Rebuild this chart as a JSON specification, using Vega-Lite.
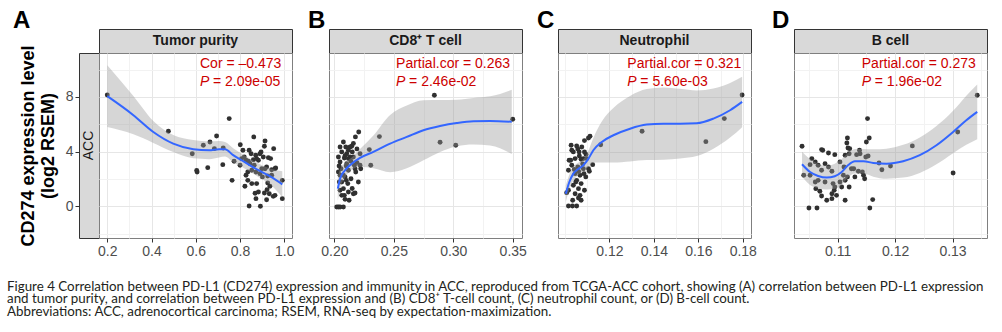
{
  "$schema": "https://vega.github.io/schema/vega-lite/v6.json",
  "autosize": {"type": "pad"},
  "padding": {"left": 7, "top": 8, "right": 0, "bottom": 0},
  "background": "white",
  "bounds": "flush",
  "align": "each",
  "columns": 8,
  "spacing": 0,
  "title": {
    "text": [
      "Figure 4 Correlation between PD-L1 (CD274) expression and immunity in ACC, reproduced from TCGA-ACC cohort, showing (A) correlation between PD-L1 expression",
      "and tumor purity, and correlation between PD-L1 expression and (B) CD8⁺ T-cell count, (C) neutrophil count, or (D) B-cell count.",
      "Abbreviations: ACC, adrenocortical carcinoma; RSEM, RNA-seq by expectation-maximization."
    ],
    "orient": "bottom", "anchor": "start", "frame": "group", "dx": -72, "offset": 21,
    "font": "Lato", "fontSize": 13.35, "fontWeight": "normal", "color": "#231f20", "lineHeight": 12.8
  },
  "datasets": {
    "ptsA": [
      {"x":0.200,"y":8.15},{"x":0.476,"y":5.49},{"x":0.584,"y":3.85},{"x":0.604,"y":2.62},{"x":0.606,"y":2.51},{"x":0.634,"y":4.47},{"x":0.654,"y":2.83},{"x":0.664,"y":4.71},{"x":0.684,"y":4.22},{"x":0.694,"y":5.15},{"x":0.722,"y":3.05},{"x":0.724,"y":4.27},{"x":0.751,"y":6.42},{"x":0.764,"y":1.90},{"x":0.773,"y":3.30},
      {"x":0.862,"y":5.08},{"x":0.913,"y":4.78},{"x":0.910,"y":4.40},{"x":0.952,"y":4.22},{"x":0.801,"y":4.51},{"x":0.813,"y":4.10},{"x":0.841,"y":4.10},{"x":0.850,"y":3.85},{"x":0.895,"y":3.98},{"x":0.871,"y":3.74},{"x":0.905,"y":3.61},{"x":0.928,"y":3.56},{"x":0.807,"y":3.49},{"x":0.827,"y":3.37},{"x":0.860,"y":3.41},{"x":0.883,"y":3.37},{"x":0.845,"y":3.12},{"x":0.864,"y":3.00},{"x":0.913,"y":2.75},{"x":0.943,"y":2.68},{"x":0.961,"y":2.81},{"x":0.835,"y":2.51},{"x":0.872,"y":2.51},{"x":0.890,"y":2.39},{"x":0.827,"y":2.27},{"x":0.901,"y":2.15},{"x":0.925,"y":2.22},{"x":0.835,"y":1.90},{"x":0.853,"y":1.66},{"x":0.822,"y":1.47},{"x":0.925,"y":1.71},{"x":0.935,"y":1.47},{"x":0.991,"y":1.90},{"x":0.883,"y":1.05},{"x":0.910,"y":0.97},{"x":0.922,"y":1.22},{"x":0.950,"y":0.73},{"x":0.872,"y":0.56},{"x":0.920,"y":0.48},{"x":0.991,"y":0.56},{"x":0.841,"y":0.02},{"x":0.892,"y":0.00},
      {"x":0.819,"y":3.61},{"x":0.890,"y":3.85},{"x":0.868,"y":0.95},{"x":0.875,"y":1.66},{"x":0.853,"y":2.64},{"x":0.898,"y":2.75},{"x":0.920,"y":2.88},{"x":0.943,"y":2.27},{"x":0.958,"y":2.75},{"x":0.938,"y":3.49},{"x":0.875,"y":3.49},{"x":0.838,"y":3.30},{"x":0.800,"y":3.00},{"x":0.932,"y":0.92},{"x":0.958,"y":0.80}
    ],
    "fitA": [
      {"x":0.200,"fit":8.06,"lo":5.80,"hi":10.32},{"x":0.318,"fit":6.67,"lo":5.27,"hi":8.07},{"x":0.408,"fit":5.44,"lo":4.64,"hi":6.24},{"x":0.498,"fit":4.59,"lo":3.97,"hi":5.21},{"x":0.589,"fit":4.18,"lo":3.51,"hi":4.85},{"x":0.660,"fit":4.10,"lo":3.45,"hi":4.75},{"x":0.705,"fit":4.18,"lo":3.58,"hi":4.78},{"x":0.732,"fit":4.18,"lo":3.65,"hi":4.71},{"x":0.769,"fit":3.74,"lo":3.23,"hi":4.25},{"x":0.807,"fit":3.37,"lo":2.89,"hi":3.85},{"x":0.845,"fit":3.00,"lo":2.52,"hi":3.48},{"x":0.883,"fit":2.64,"lo":2.15,"hi":3.13},{"x":0.940,"fit":2.15,"lo":1.55,"hi":2.75},{"x":0.991,"fit":1.61,"lo":0.66,"hi":2.56}
    ],
    "ptsB": [
      {"x":0.2841,"y":8.13},{"x":0.3500,"y":6.37},{"x":0.2379,"y":5.10},{"x":0.2889,"y":4.69},{"x":0.3021,"y":4.47},{"x":0.2294,"y":4.15},{"x":0.2306,"y":3.00},{"x":0.2205,"y":5.44},{"x":0.2177,"y":5.08},{"x":0.2216,"y":3.85},{"x":0.2222,"y":2.75},
      {"x":0.2076,"y":4.71},{"x":0.2048,"y":4.34},{"x":0.2096,"y":4.34},{"x":0.2132,"y":4.34},{"x":0.2062,"y":3.98},{"x":0.2104,"y":3.85},{"x":0.2151,"y":3.98},{"x":0.2034,"y":3.61},{"x":0.2084,"y":3.54},{"x":0.2132,"y":3.61},{"x":0.2048,"y":3.25},{"x":0.2104,"y":3.12},{"x":0.2168,"y":3.00},{"x":0.2216,"y":3.00},{"x":0.2056,"y":2.75},{"x":0.2118,"y":2.64},{"x":0.2180,"y":2.51},{"x":0.2048,"y":2.27},{"x":0.2090,"y":2.15},{"x":0.2140,"y":2.02},{"x":0.2062,"y":1.78},{"x":0.2113,"y":1.66},{"x":0.2202,"y":1.78},{"x":0.2076,"y":1.29},{"x":0.2118,"y":1.05},{"x":0.2174,"y":0.97},{"x":0.2062,"y":0.80},{"x":0.2090,"y":0.51},{"x":0.2124,"y":0.44},{"x":0.2020,"y":-0.05},{"x":0.2034,"y":-0.05},{"x":0.2048,"y":-0.05},{"x":0.2076,"y":-0.05},
      {"x":0.2146,"y":4.40},{"x":0.2160,"y":3.61},{"x":0.2118,"y":3.49},{"x":0.2174,"y":2.75},{"x":0.2160,"y":0.92},{"x":0.2084,"y":0.80},{"x":0.2048,"y":1.17},{"x":0.2042,"y":1.78},{"x":0.2034,"y":2.51},{"x":0.2076,"y":2.27},{"x":0.2090,"y":3.70},{"x":0.2118,"y":4.10},{"x":0.2100,"y":1.90},{"x":0.2150,"y":1.30},{"x":0.2040,"y":2.95},{"x":0.2160,"y":4.60},{"x":0.2190,"y":4.20},{"x":0.2100,"y":2.95},{"x":0.2140,"y":3.30},{"x":0.2190,"y":3.20}
    ],
    "fitB": [
      {"x":0.2029,"fit":1.29,"lo":0.39,"hi":2.19},{"x":0.2048,"fit":2.02,"lo":1.32,"hi":2.72},{"x":0.2090,"fit":2.64,"lo":2.09,"hi":3.19},{"x":0.2146,"fit":3.12,"lo":2.67,"hi":3.57},{"x":0.2216,"fit":3.54,"lo":2.89,"hi":4.19},{"x":0.2328,"fit":3.98,"lo":2.78,"hi":5.18},{"x":0.2469,"fit":4.59,"lo":2.49,"hi":6.69},{"x":0.2609,"fit":5.08,"lo":2.78,"hi":7.38},{"x":0.2749,"fit":5.57,"lo":3.37,"hi":7.77},{"x":0.2889,"fit":5.88,"lo":3.98,"hi":7.78},{"x":0.3030,"fit":6.10,"lo":4.40,"hi":7.80},{"x":0.3169,"fit":6.23,"lo":4.53,"hi":7.93},{"x":0.3310,"fit":6.25,"lo":4.45,"hi":8.05},{"x":0.3492,"fit":6.18,"lo":3.83,"hi":8.53}
    ],
    "ptsC": [
      {"x":0.1797,"y":8.15},{"x":0.1717,"y":6.42},{"x":0.1347,"y":5.49},{"x":0.1634,"y":4.73},{"x":0.1161,"y":4.51},{"x":0.1113,"y":5.13},{"x":0.1106,"y":5.00},{"x":0.1088,"y":4.81},{"x":0.1125,"y":3.05},{"x":0.1110,"y":2.56},
      {"x":0.1028,"y":4.47},{"x":0.1053,"y":4.42},{"x":0.1076,"y":4.34},{"x":0.1038,"y":3.98},{"x":0.1064,"y":3.98},{"x":0.1088,"y":3.98},{"x":0.1019,"y":3.37},{"x":0.1046,"y":3.49},{"x":0.1073,"y":3.44},{"x":0.1098,"y":3.49},{"x":0.1031,"y":3.00},{"x":0.1058,"y":2.88},{"x":0.1083,"y":2.75},{"x":0.1106,"y":2.75},{"x":0.1046,"y":2.39},{"x":0.1068,"y":2.27},{"x":0.1094,"y":2.15},{"x":0.1053,"y":1.90},{"x":0.1073,"y":1.66},{"x":0.1038,"y":1.54},{"x":0.1061,"y":1.29},{"x":0.1088,"y":1.17},{"x":0.1008,"y":1.00},{"x":0.1046,"y":0.92},{"x":0.1061,"y":0.61},{"x":0.1073,"y":0.44},{"x":0.1016,"y":0.02},{"x":0.1034,"y":0.02},{"x":0.1053,"y":0.02},
      {"x":0.1035,"y":0.44},{"x":0.1068,"y":0.80},{"x":0.1016,"y":2.64},{"x":0.1026,"y":3.37},{"x":0.1031,"y":4.10},{"x":0.1065,"y":3.68},{"x":0.1086,"y":2.39},{"x":0.1049,"y":1.78},{"x":0.1016,"y":1.17},{"x":0.1083,"y":3.49},{"x":0.1058,"y":4.20},{"x":0.1080,"y":3.10},{"x":0.1042,"y":2.70},{"x":0.1095,"y":3.80},{"x":0.1062,"y":2.55}
    ],
    "fitC": [
      {"x":0.1004,"fit":0.92,"lo":0.32,"hi":1.52},{"x":0.1020,"fit":1.78,"lo":1.23,"hi":2.33},{"x":0.1038,"fit":2.39,"lo":1.89,"hi":2.89},{"x":0.1061,"fit":2.75,"lo":2.30,"hi":3.20},{"x":0.1083,"fit":3.00,"lo":2.55,"hi":3.45},{"x":0.1106,"fit":3.49,"lo":2.89,"hi":4.09},{"x":0.1128,"fit":4.10,"lo":3.20,"hi":5.00},{"x":0.1166,"fit":4.71,"lo":3.21,"hi":6.21},{"x":0.1218,"fit":5.20,"lo":3.20,"hi":7.20},{"x":0.1293,"fit":5.68,"lo":3.28,"hi":8.08},{"x":0.1368,"fit":5.98,"lo":3.38,"hi":8.58},{"x":0.1443,"fit":6.05,"lo":3.40,"hi":8.70},{"x":0.1518,"fit":6.05,"lo":3.50,"hi":8.60},{"x":0.1593,"fit":6.08,"lo":3.68,"hi":8.48},{"x":0.1668,"fit":6.42,"lo":4.22,"hi":8.62},{"x":0.1743,"fit":7.03,"lo":5.03,"hi":9.03},{"x":0.1797,"fit":7.64,"lo":5.79,"hi":9.49}
    ],
    "ptsD": [
      {"x":0.1343,"y":8.13},{"x":0.1309,"y":5.44},{"x":0.1301,"y":2.44},{"x":0.1230,"y":4.42},{"x":0.1192,"y":2.95},{"x":0.1172,"y":3.17},{"x":0.1177,"y":2.68},{"x":0.1152,"y":6.42},{"x":0.1155,"y":5.00},{"x":0.1150,"y":4.71},{"x":0.1161,"y":0.49},{"x":0.1156,"y":-0.12},{"x":0.1038,"y":4.40},{"x":0.1050,"y":-0.12},{"x":0.1064,"y":-0.12},
      {"x":0.1072,"y":4.15},{"x":0.1084,"y":3.90},{"x":0.1117,"y":5.00},{"x":0.1116,"y":4.63},{"x":0.1118,"y":4.27},{"x":0.1120,"y":3.85},{"x":0.1113,"y":3.74},{"x":0.1095,"y":3.78},{"x":0.1104,"y":3.25},{"x":0.1055,"y":3.49},{"x":0.1061,"y":3.25},{"x":0.1052,"y":3.05},{"x":0.1066,"y":3.00},{"x":0.1078,"y":3.12},{"x":0.1084,"y":2.88},{"x":0.1090,"y":2.56},{"x":0.1072,"y":2.64},{"x":0.1133,"y":3.78},{"x":0.1139,"y":3.85},{"x":0.1149,"y":3.61},{"x":0.1153,"y":3.68},{"x":0.1124,"y":2.75},{"x":0.1136,"y":2.56},{"x":0.1130,"y":2.15},{"x":0.1143,"y":2.51},{"x":0.1110,"y":2.27},{"x":0.1113,"y":1.90},{"x":0.1104,"y":1.78},{"x":0.1092,"y":1.66},{"x":0.1078,"y":1.78},{"x":0.1066,"y":1.90},{"x":0.1061,"y":1.78},{"x":0.1052,"y":2.27},{"x":0.1041,"y":2.27},{"x":0.1062,"y":1.29},{"x":0.1069,"y":1.10},{"x":0.1095,"y":1.41},{"x":0.1107,"y":1.41},{"x":0.1120,"y":1.41},{"x":0.1090,"y":0.92},{"x":0.1098,"y":0.80},{"x":0.1081,"y":0.44},{"x":0.1113,"y":0.44},
      {"x":0.1074,"y":4.10},{"x":0.1121,"y":4.22},{"x":0.1138,"y":4.10},{"x":0.1128,"y":2.75},{"x":0.1111,"y":2.88},{"x":0.1117,"y":2.15},{"x":0.1145,"y":2.27},{"x":0.1147,"y":2.02},{"x":0.1094,"y":1.17},{"x":0.1090,"y":0.56},{"x":0.1072,"y":0.75}
    ],
    "fitD": [
      {"x":0.1038,"fit":3.08,"lo":2.16,"hi":4.00},{"x":0.1052,"fit":2.51,"lo":1.56,"hi":3.46},{"x":0.1066,"fit":2.22,"lo":1.32,"hi":3.12},{"x":0.1081,"fit":2.10,"lo":1.23,"hi":2.97},{"x":0.1095,"fit":2.20,"lo":1.28,"hi":3.12},{"x":0.1107,"fit":2.51,"lo":1.56,"hi":3.46},{"x":0.1118,"fit":3.00,"lo":2.10,"hi":3.90},{"x":0.1130,"fit":3.30,"lo":2.40,"hi":4.20},{"x":0.1145,"fit":3.30,"lo":2.40,"hi":4.20},{"x":0.1162,"fit":3.17,"lo":2.17,"hi":4.17},{"x":0.1185,"fit":3.12,"lo":2.02,"hi":4.22},{"x":0.1214,"fit":3.30,"lo":2.10,"hi":4.50},{"x":0.1243,"fit":3.74,"lo":2.44,"hi":5.04},{"x":0.1272,"fit":4.47,"lo":3.07,"hi":5.87},{"x":0.1301,"fit":5.44,"lo":3.89,"hi":6.99},{"x":0.1324,"fit":6.30,"lo":4.50,"hi":8.10},{"x":0.1343,"fit":6.91,"lo":4.91,"hi":8.91}
    ]
  },
  "concat": [
    {"width": 20, "height": 24, "view": {"stroke": null}, "data": {"values": [{"s": ""}]}, "mark": {"type": "text"}, "encoding": {"text": {"field": "s"}}},
    {"width": 193, "height": 24, "view": {"fill": "#d9d9d9", "stroke": "#333333", "strokeWidth": 1},
      "title": {"text": "A", "anchor": "start", "frame": "group", "dx": -86, "dy": 23, "offset": 0, "baseline": "alphabetic", "font": "Liberation Sans", "fontSize": 24, "fontWeight": "bold", "color": "black"},
      "data": {"values": [{"s": "Tumor purity"}]}, "mark": {"type": "text", "font": "Liberation Sans", "fontSize": 14, "fontWeight": "bold", "color": "#1a1a1a", "baseline": "middle"}, "encoding": {"text": {"field": "s"}}},
    {"width": 37, "height": 24, "view": {"stroke": null}, "data": {"values": [{"s": ""}]}, "mark": {"type": "text"}, "encoding": {"text": {"field": "s"}}},
    {"width": 193, "height": 24, "view": {"fill": "#d9d9d9", "stroke": "#333333", "strokeWidth": 1},
      "title": {"text": "B", "anchor": "start", "frame": "group", "dx": -21, "dy": 23, "offset": 0, "baseline": "alphabetic", "font": "Liberation Sans", "fontSize": 24, "fontWeight": "bold", "color": "black"},
      "data": {"values": [{"s": "CD8⁺ T cell"}]}, "mark": {"type": "text", "font": "Liberation Sans", "fontSize": 14, "fontWeight": "bold", "color": "#1a1a1a", "baseline": "middle"}, "encoding": {"text": {"field": "s"}}},
    {"width": 36, "height": 24, "view": {"stroke": null}, "data": {"values": [{"s": ""}]}, "mark": {"type": "text"}, "encoding": {"text": {"field": "s"}}},
    {"width": 193, "height": 24, "view": {"fill": "#d9d9d9", "stroke": "#333333", "strokeWidth": 1},
      "title": {"text": "C", "anchor": "start", "frame": "group", "dx": -21, "dy": 23, "offset": 0, "baseline": "alphabetic", "font": "Liberation Sans", "fontSize": 24, "fontWeight": "bold", "color": "black"},
      "data": {"values": [{"s": "Neutrophil"}]}, "mark": {"type": "text", "font": "Liberation Sans", "fontSize": 14, "fontWeight": "bold", "color": "#1a1a1a", "baseline": "middle"}, "encoding": {"text": {"field": "s"}}},
    {"width": 43, "height": 24, "view": {"stroke": null}, "data": {"values": [{"s": ""}]}, "mark": {"type": "text"}, "encoding": {"text": {"field": "s"}}},
    {"width": 193, "height": 24, "view": {"fill": "#d9d9d9", "stroke": "#333333", "strokeWidth": 1},
      "title": {"text": "D", "anchor": "start", "frame": "group", "dx": -22, "dy": 23, "offset": 0, "baseline": "alphabetic", "font": "Liberation Sans", "fontSize": 24, "fontWeight": "bold", "color": "black"},
      "data": {"values": [{"s": "B cell"}]}, "mark": {"type": "text", "font": "Liberation Sans", "fontSize": 14, "fontWeight": "bold", "color": "#1a1a1a", "baseline": "middle"}, "encoding": {"text": {"field": "s"}}},

    {
      "width": 20, "height": 185,
      "view": {"fill": "#d9d9d9", "stroke": "#333333", "strokeWidth": 1},
      "layer": [
        {
          "data": {"name": "ptsA"},
          "mark": {"type": "point", "opacity": 0},
          "encoding": {
            "y": {"field": "y", "type": "quantitative", "scale": {"domain": [-2.32, 11.22], "nice": false, "zero": false},
              "axis": {"values": [0, 4, 8], "grid": false, "domain": false, "ticks": true, "tickColor": "#333333", "tickSize": 4,
                "labelFont": "Liberation Sans", "labelFontSize": 14, "labelColor": "#4d4d4d", "labelPadding": 2,
                "title": ["CD274 expression level", "(log2 RSEM)"], "titleFont": "Liberation Sans", "titleFontSize": 18, "titleFontWeight": "bold", "titleColor": "black", "titlePadding": 8, "titleLineHeight": 20}}
          }
        },
        {
          "data": {"values": [{"s": "ACC"}]},
          "mark": {"type": "text", "angle": 270, "font": "Liberation Sans", "fontSize": 14, "color": "#1a1a1a", "baseline": "middle", "align": "center"},
          "encoding": {"text": {"field": "s"}}
        }
      ]
    },
    {
      "width": 193, "height": 185,
      "view": {"fill": "white", "stroke": "#7f7f7f", "strokeWidth": 1},
      "encoding": {
        "x": {"type": "quantitative", "scale": {"domain": [0.1625, 1.0348], "nice": false, "zero": false},
          "axis": {"title": null, "values": [0.2, 0.3, 0.4, 0.5, 0.6, 0.7, 0.8, 0.9, 1.0], "grid": true, "domain": false,
            "gridColor": {"condition": {"test": "abs(datum.value*5 - round(datum.value*5)) < 0.001", "value": "#e6e6e6"}, "value": "#f2f2f2"},
            "tickColor": "#333333", "tickSize": 4,
            "tickOpacity": {"condition": {"test": "abs(datum.value*5 - round(datum.value*5)) < 0.001", "value": 1}, "value": 0},
            "labelExpr": "abs(datum.value*5 - round(datum.value*5)) < 0.001 ? format(datum.value, '.1f') : ''",
            "labelFont": "Liberation Sans", "labelFontSize": 14, "labelColor": "#4d4d4d", "labelPadding": 2, "labelFlush": false, "labelOverlap": false}},
        "y": {"type": "quantitative", "scale": {"domain": [-2.32, 11.22], "nice": false, "zero": false},
          "axis": {"title": null, "values": [-2, 0, 2, 4, 6, 8, 10], "grid": true, "labels": false, "ticks": false, "domain": false,
            "gridColor": {"condition": {"test": "datum.value % 4 == 0", "value": "#e6e6e6"}, "value": "#f2f2f2"}}}
      },
      "layer": [
        {"data": {"name": "ptsA"}, "mark": {"type": "circle", "size": 24, "color": "#303030", "opacity": 1}, "encoding": {"x": {"field": "x", "type": "quantitative"}, "y": {"field": "y", "type": "quantitative"}}},
        {"data": {"name": "fitA"}, "mark": {"type": "area", "color": "#999999", "opacity": 0.4, "interpolate": "monotone"}, "encoding": {"x": {"field": "x", "type": "quantitative"}, "y": {"field": "lo", "type": "quantitative"}, "y2": {"field": "hi"}}},
        {"data": {"name": "fitA"}, "mark": {"type": "line", "color": "#3366FF", "strokeWidth": 2, "interpolate": "monotone"}, "encoding": {"x": {"field": "x", "type": "quantitative"}, "y": {"field": "fit", "type": "quantitative"}}},
        {"data": {"values": [{"t": "Cor = –0.473"}]}, "mark": {"type": "text", "align": "left", "baseline": "middle", "font": "Liberation Sans", "fontSize": 14, "color": "#cc0000"}, "encoding": {"x": {"datum": 0.619}, "y": {"datum": 10.4}, "text": {"field": "t"}}},
        {"data": {"values": [{"t": "P"}]}, "mark": {"type": "text", "align": "left", "baseline": "middle", "font": "Liberation Sans", "fontSize": 14, "fontStyle": "italic", "color": "#cc0000"}, "encoding": {"x": {"datum": 0.619}, "y": {"datum": 9.07}, "text": {"field": "t"}}},
        {"data": {"values": [{"t": "= 2.09e-05"}]}, "mark": {"type": "text", "align": "left", "baseline": "middle", "dx": 13, "font": "Liberation Sans", "fontSize": 14, "color": "#cc0000"}, "encoding": {"x": {"datum": 0.619}, "y": {"datum": 9.07}, "text": {"field": "t"}}}
      ]
    },
    {"width": 37, "height": 24, "view": {"stroke": null}, "data": {"values": [{"s": ""}]}, "mark": {"type": "text"}, "encoding": {"text": {"field": "s"}}},
    {
      "width": 193, "height": 185,
      "view": {"fill": "white", "stroke": "#7f7f7f", "strokeWidth": 1},
      "encoding": {
        "x": {"type": "quantitative", "scale": {"domain": [0.1955, 0.3578], "nice": false, "zero": false},
          "axis": {"title": null, "values": [0.2, 0.225, 0.25, 0.275, 0.3, 0.325, 0.35], "grid": true, "domain": false,
            "gridColor": {"condition": {"test": "abs(datum.value*20 - round(datum.value*20)) < 0.001", "value": "#e6e6e6"}, "value": "#f2f2f2"},
            "tickColor": "#333333", "tickSize": 4,
            "tickOpacity": {"condition": {"test": "abs(datum.value*20 - round(datum.value*20)) < 0.001", "value": 1}, "value": 0},
            "labelExpr": "abs(datum.value*20 - round(datum.value*20)) < 0.001 ? format(datum.value, '.2f') : ''",
            "labelFont": "Liberation Sans", "labelFontSize": 14, "labelColor": "#4d4d4d", "labelPadding": 2, "labelFlush": false, "labelOverlap": false}},
        "y": {"type": "quantitative", "scale": {"domain": [-2.32, 11.22], "nice": false, "zero": false},
          "axis": {"title": null, "values": [-2, 0, 2, 4, 6, 8, 10], "grid": true, "labels": false, "ticks": false, "domain": false,
            "gridColor": {"condition": {"test": "datum.value % 4 == 0", "value": "#e6e6e6"}, "value": "#f2f2f2"}}}
      },
      "layer": [
        {"data": {"name": "ptsB"}, "mark": {"type": "circle", "size": 24, "color": "#303030", "opacity": 1}, "encoding": {"x": {"field": "x", "type": "quantitative"}, "y": {"field": "y", "type": "quantitative"}}},
        {"data": {"name": "fitB"}, "mark": {"type": "area", "color": "#999999", "opacity": 0.4, "interpolate": "monotone"}, "encoding": {"x": {"field": "x", "type": "quantitative"}, "y": {"field": "lo", "type": "quantitative"}, "y2": {"field": "hi"}}},
        {"data": {"name": "fitB"}, "mark": {"type": "line", "color": "#3366FF", "strokeWidth": 2, "interpolate": "monotone"}, "encoding": {"x": {"field": "x", "type": "quantitative"}, "y": {"field": "fit", "type": "quantitative"}}},
        {"data": {"values": [{"t": "Partial.cor = 0.263"}]}, "mark": {"type": "text", "align": "left", "baseline": "middle", "font": "Liberation Sans", "fontSize": 14, "color": "#cc0000"}, "encoding": {"x": {"datum": 0.2519}, "y": {"datum": 10.4}, "text": {"field": "t"}}},
        {"data": {"values": [{"t": "P"}]}, "mark": {"type": "text", "align": "left", "baseline": "middle", "font": "Liberation Sans", "fontSize": 14, "fontStyle": "italic", "color": "#cc0000"}, "encoding": {"x": {"datum": 0.2519}, "y": {"datum": 9.07}, "text": {"field": "t"}}},
        {"data": {"values": [{"t": "= 2.46e-02"}]}, "mark": {"type": "text", "align": "left", "baseline": "middle", "dx": 13, "font": "Liberation Sans", "fontSize": 14, "color": "#cc0000"}, "encoding": {"x": {"datum": 0.2519}, "y": {"datum": 9.07}, "text": {"field": "t"}}}
      ]
    },
    {"width": 36, "height": 24, "view": {"stroke": null}, "data": {"values": [{"s": ""}]}, "mark": {"type": "text"}, "encoding": {"text": {"field": "s"}}},
    {
      "width": 193, "height": 185,
      "view": {"fill": "white", "stroke": "#7f7f7f", "strokeWidth": 1},
      "encoding": {
        "x": {"type": "quantitative", "scale": {"domain": [0.0969, 0.1837], "nice": false, "zero": false},
          "axis": {"title": null, "values": [0.1, 0.11, 0.12, 0.13, 0.14, 0.15, 0.16, 0.17, 0.18], "grid": true, "domain": false,
            "gridColor": {"condition": {"test": "datum.value > 0.115 && abs(datum.value*50 - round(datum.value*50)) < 0.001", "value": "#e6e6e6"}, "value": "#f2f2f2"},
            "tickColor": "#333333", "tickSize": 4,
            "tickOpacity": {"condition": {"test": "datum.value > 0.115 && abs(datum.value*50 - round(datum.value*50)) < 0.001", "value": 1}, "value": 0},
            "labelExpr": "datum.value > 0.115 && abs(datum.value*50 - round(datum.value*50)) < 0.001 ? format(datum.value, '.2f') : ''",
            "labelFont": "Liberation Sans", "labelFontSize": 14, "labelColor": "#4d4d4d", "labelPadding": 2, "labelFlush": false, "labelOverlap": false}},
        "y": {"type": "quantitative", "scale": {"domain": [-2.32, 11.22], "nice": false, "zero": false},
          "axis": {"title": null, "values": [-2, 0, 2, 4, 6, 8, 10], "grid": true, "labels": false, "ticks": false, "domain": false,
            "gridColor": {"condition": {"test": "datum.value % 4 == 0", "value": "#e6e6e6"}, "value": "#f2f2f2"}}}
      },
      "layer": [
        {"data": {"name": "ptsC"}, "mark": {"type": "circle", "size": 24, "color": "#303030", "opacity": 1}, "encoding": {"x": {"field": "x", "type": "quantitative"}, "y": {"field": "y", "type": "quantitative"}}},
        {"data": {"name": "fitC"}, "mark": {"type": "area", "color": "#999999", "opacity": 0.4, "interpolate": "monotone"}, "encoding": {"x": {"field": "x", "type": "quantitative"}, "y": {"field": "lo", "type": "quantitative"}, "y2": {"field": "hi"}}},
        {"data": {"name": "fitC"}, "mark": {"type": "line", "color": "#3366FF", "strokeWidth": 2, "interpolate": "monotone"}, "encoding": {"x": {"field": "x", "type": "quantitative"}, "y": {"field": "fit", "type": "quantitative"}}},
        {"data": {"values": [{"t": "Partial.cor = 0.321"}]}, "mark": {"type": "text", "align": "left", "baseline": "middle", "font": "Liberation Sans", "fontSize": 14, "color": "#cc0000"}, "encoding": {"x": {"datum": 0.1281}, "y": {"datum": 10.4}, "text": {"field": "t"}}},
        {"data": {"values": [{"t": "P"}]}, "mark": {"type": "text", "align": "left", "baseline": "middle", "font": "Liberation Sans", "fontSize": 14, "fontStyle": "italic", "color": "#cc0000"}, "encoding": {"x": {"datum": 0.1281}, "y": {"datum": 9.07}, "text": {"field": "t"}}},
        {"data": {"values": [{"t": "= 5.60e-03"}]}, "mark": {"type": "text", "align": "left", "baseline": "middle", "dx": 13, "font": "Liberation Sans", "fontSize": 14, "color": "#cc0000"}, "encoding": {"x": {"datum": 0.1281}, "y": {"datum": 9.07}, "text": {"field": "t"}}}
      ]
    },
    {"width": 43, "height": 24, "view": {"stroke": null}, "data": {"values": [{"s": ""}]}, "mark": {"type": "text"}, "encoding": {"text": {"field": "s"}}},
    {
      "width": 193, "height": 185,
      "view": {"fill": "white", "stroke": "#7f7f7f", "strokeWidth": 1},
      "encoding": {
        "x": {"type": "quantitative", "scale": {"domain": [0.1024, 0.136], "nice": false, "zero": false},
          "axis": {"title": null, "values": [0.105, 0.11, 0.115, 0.12, 0.125, 0.13, 0.135], "grid": true, "domain": false,
            "gridColor": {"condition": {"test": "abs(datum.value*100 - round(datum.value*100)) < 0.001", "value": "#e6e6e6"}, "value": "#f2f2f2"},
            "tickColor": "#333333", "tickSize": 4,
            "tickOpacity": {"condition": {"test": "abs(datum.value*100 - round(datum.value*100)) < 0.001", "value": 1}, "value": 0},
            "labelExpr": "abs(datum.value*100 - round(datum.value*100)) < 0.001 ? format(datum.value, '.2f') : ''",
            "labelFont": "Liberation Sans", "labelFontSize": 14, "labelColor": "#4d4d4d", "labelPadding": 2, "labelFlush": false, "labelOverlap": false}},
        "y": {"type": "quantitative", "scale": {"domain": [-2.32, 11.22], "nice": false, "zero": false},
          "axis": {"title": null, "values": [-2, 0, 2, 4, 6, 8, 10], "grid": true, "labels": false, "ticks": false, "domain": false,
            "gridColor": {"condition": {"test": "datum.value % 4 == 0", "value": "#e6e6e6"}, "value": "#f2f2f2"}}}
      },
      "layer": [
        {"data": {"name": "ptsD"}, "mark": {"type": "circle", "size": 24, "color": "#303030", "opacity": 1}, "encoding": {"x": {"field": "x", "type": "quantitative"}, "y": {"field": "y", "type": "quantitative"}}},
        {"data": {"name": "fitD"}, "mark": {"type": "area", "color": "#999999", "opacity": 0.4, "interpolate": "monotone"}, "encoding": {"x": {"field": "x", "type": "quantitative"}, "y": {"field": "lo", "type": "quantitative"}, "y2": {"field": "hi"}}},
        {"data": {"name": "fitD"}, "mark": {"type": "line", "color": "#3366FF", "strokeWidth": 2, "interpolate": "monotone"}, "encoding": {"x": {"field": "x", "type": "quantitative"}, "y": {"field": "fit", "type": "quantitative"}}},
        {"data": {"values": [{"t": "Partial.cor = 0.273"}]}, "mark": {"type": "text", "align": "left", "baseline": "middle", "font": "Liberation Sans", "fontSize": 14, "color": "#cc0000"}, "encoding": {"x": {"datum": 0.1142}, "y": {"datum": 10.4}, "text": {"field": "t"}}},
        {"data": {"values": [{"t": "P"}]}, "mark": {"type": "text", "align": "left", "baseline": "middle", "font": "Liberation Sans", "fontSize": 14, "fontStyle": "italic", "color": "#cc0000"}, "encoding": {"x": {"datum": 0.1142}, "y": {"datum": 9.07}, "text": {"field": "t"}}},
        {"data": {"values": [{"t": "= 1.96e-02"}]}, "mark": {"type": "text", "align": "left", "baseline": "middle", "dx": 13, "font": "Liberation Sans", "fontSize": 14, "color": "#cc0000"}, "encoding": {"x": {"datum": 0.1142}, "y": {"datum": 9.07}, "text": {"field": "t"}}}
      ]
    }
  ]
}
